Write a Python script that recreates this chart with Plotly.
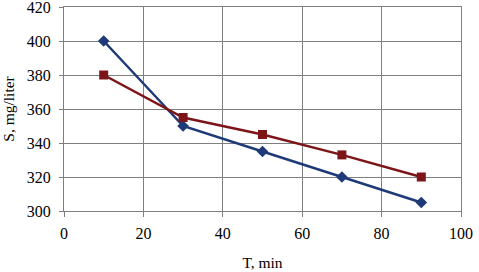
import plotly.graph_objects as go

t_min = [10, 30, 50, 70, 90]
series_blue = [400, 350, 335, 320, 305]
series_red = [380, 355, 345, 333, 320]
x_ticks = [0, 20, 40, 60, 80, 100]
y_ticks = [300, 320, 340, 360, 380, 400, 420]

fig = go.Figure()
fig.add_trace(go.Scatter(x=t_min, y=series_blue, mode="lines+markers",
                         line=dict(color="#1f3a78", width=2.5),
                         marker=dict(symbol="diamond", size=9, color="#1f3a78"),
                         showlegend=False))
fig.add_trace(go.Scatter(x=t_min, y=series_red, mode="lines+markers",
                         line=dict(color="#7d1518", width=2.5),
                         marker=dict(symbol="square", size=9, color="#7d1518"),
                         showlegend=False))

fam = "Liberation Serif"
tick_font = dict(family=fam, size=16, color="#000000")
title_font = dict(family=fam, size=15.5, color="#000000")
fig.update_layout(
    width=479, height=272,
    margin=dict(l=64, r=18, t=7, b=61),
    paper_bgcolor="white", plot_bgcolor="white",
    font=tick_font,
    xaxis=dict(range=[0, 100], tickvals=x_ticks, showgrid=True, gridcolor="#7f7f7f", gridwidth=1,
               showline=True, linecolor="#7f7f7f", linewidth=1, ticks="outside", ticklen=5,
               tickcolor="#7f7f7f", mirror=True, zeroline=False, ticklabelstandoff=3,
               automargin=False, tickfont=tick_font,
               title=dict(text="T, min", standoff=15, font=title_font), fixedrange=True),
    yaxis=dict(range=[300, 420], tickvals=y_ticks, showgrid=True, gridcolor="#7f7f7f", gridwidth=1,
               showline=True, linecolor="#7f7f7f", linewidth=1, ticks="outside", ticklen=4,
               tickcolor="#7f7f7f", mirror=True, zeroline=False, ticklabelstandoff=5,
               automargin=False, ticklabeloverflow="allow", tickfont=tick_font,
               title=dict(text="S, mg/liter", standoff=16, font=title_font), fixedrange=True),
)
fig.write_html("out.html")
